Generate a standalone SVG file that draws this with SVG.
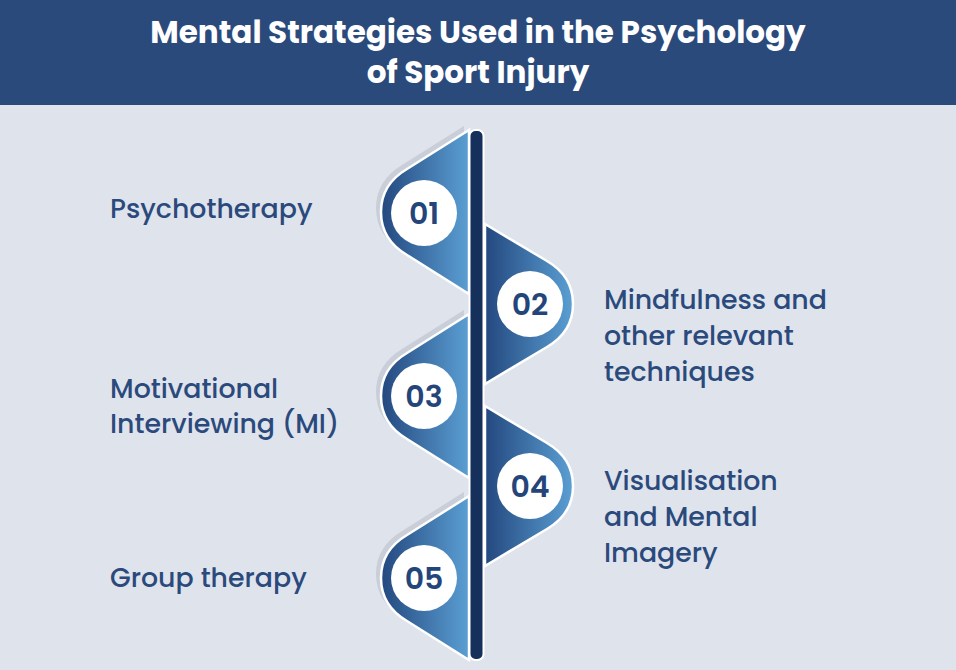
<svg xmlns="http://www.w3.org/2000/svg" width="956" height="670" viewBox="0 0 956 670">
<style>
.t{font-family:Poppins,"Inter","Liberation Sans",sans-serif;font-weight:500;fill:#2b4a7c;font-size:26.8px}
.n{font-family:Poppins,"Inter","Liberation Sans",sans-serif;font-weight:600;fill:#24457a;font-size:30px;text-anchor:middle}
.h{font-family:Poppins,"Inter","Liberation Sans",sans-serif;font-weight:700;fill:#fff;font-size:31px;text-anchor:middle}
.s{stroke:#fff;stroke-width:2.5;fill:url(#g)}
.sh{fill:#c9ced8}
</style>
<defs>
<linearGradient id="g" x1="0" y1="0" x2="1" y2="0"><stop offset="0" stop-color="#23487f"/><stop offset="1" stop-color="#5b9fd3"/></linearGradient>
<path id="L" d="M469,-82 L407,-43 C390,-33 381,-18 381,0 C381,18 390,33 407,43 L469,82 Z"/>
<path id="R" d="M485,-80 L547,-43 C564,-33 573,-18 573,0 C573,18 564,33 547,43 L485,80 Z"/>
</defs>
<rect width="956" height="670" fill="#dfe3ec"/>
<rect width="956" height="105" fill="#2b4a7c"/>
<text class="h" x="478" y="43">Mental Strategies Used in the Psychology</text>
<text class="h" x="478" y="83">of Sport Injury</text>
<g id="connectors">
<use href="#L" class="sh" transform="translate(-5,208)"/>
<use href="#L" class="sh" transform="translate(-5,392)"/>
<use href="#L" class="sh" transform="translate(-5,574)"/>
</g>
<g id="n1"><use href="#L" class="s" transform="translate(0,212)"/><circle cx="424" cy="213" r="33" fill="#fff"/><text class="n" x="424" y="224">01</text><text class="t" x="110" y="218">Psychotherapy</text></g>
<g id="n3"><use href="#L" class="s" transform="translate(0,396)"/><circle cx="424" cy="396" r="33" fill="#fff"/><text class="n" x="424" y="407">03</text><text class="t" x="110" y="398">Motivational</text><text class="t" x="110" y="433">Interviewing (MI)</text></g>
<g id="n5"><use href="#L" class="s" transform="translate(0,578)"/><circle cx="424" cy="578" r="33" fill="#fff"/><text class="n" x="424" y="589">05</text><text class="t" x="110" y="587">Group therapy</text></g>
<g id="n2"><use href="#R" class="s" transform="translate(0,304)"/><circle cx="530" cy="304" r="33" fill="#fff"/><text class="n" x="530" y="315">02</text><text class="t" x="604" y="309">Mindfulness and</text><text class="t" x="604" y="345">other relevant</text><text class="t" x="604" y="381">techniques</text></g>
<g id="n4"><use href="#R" class="s" transform="translate(0,486)"/><circle cx="530" cy="486" r="33" fill="#fff"/><text class="n" x="530" y="497">04</text><text class="t" x="604" y="490">Visualisation</text><text class="t" x="604" y="526">and Mental</text><text class="t" x="604" y="562">Imagery</text></g>
<g id="bar"><rect x="469.5" y="130" width="14" height="530" rx="6" fill="#15305a" stroke="#fff" stroke-width="2"/></g>
</svg>
